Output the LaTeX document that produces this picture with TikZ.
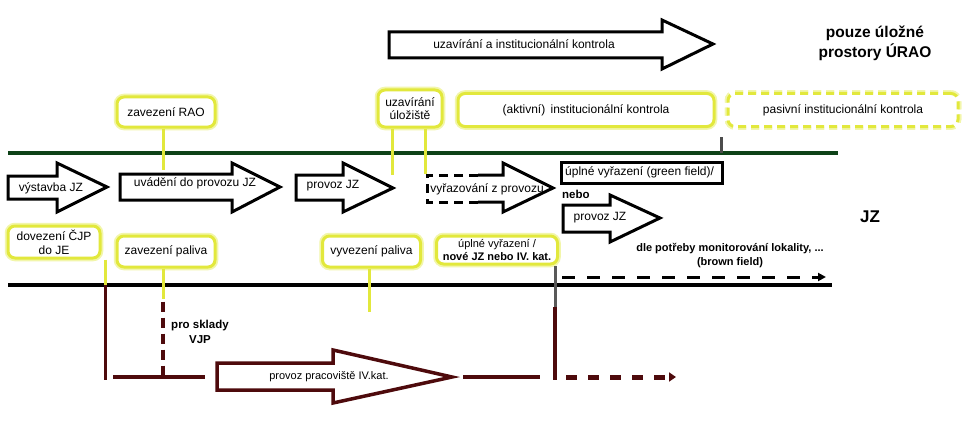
\documentclass[tikz,border=0pt]{standalone}
\usepackage{fontspec}
\setmainfont{Liberation Sans}
\usetikzlibrary{arrows.meta}
\definecolor{ylw}{RGB}{226,232,60}
\definecolor{ylwl}{RGB}{242,246,170}
\definecolor{dgreen}{RGB}{14,66,24}
\definecolor{mrn}{RGB}{78,10,12}
\tikzset{
  txt/.style={font=\fontsize{12}{14}\selectfont, inner sep=0pt},
  btxt/.style={font=\fontsize{11}{14}\selectfont\bfseries, inner sep=0pt, align=center},
  bigtxt/.style={font=\fontsize{15.5}{20}\selectfont\bfseries, inner sep=0pt, align=center},
  ybox/.style={draw=ylw, line width=3pt, rounded corners=7pt, fill=white,
    preaction={draw=ylwl, line width=6.5pt},
    align=center, inner sep=1pt, font=\fontsize{12}{14}\selectfont},
  ydash/.style={ybox, dash pattern=on 8pt off 5pt, preaction={draw=ylwl, line width=6.5pt, dash pattern=on 8pt off 5pt}},
  yl/.style={draw=ylw, line width=3pt},
  arr/.style={draw=black, line width=3pt, fill=white, line join=miter},
  marr/.style={draw=mrn, line width=3.5pt, fill=white, line join=miter},
  mline/.style={draw=mrn, line width=3.5pt},
  bbox/.style={draw=black, line width=3pt, fill=white}
}
\begin{document}
\begin{tikzpicture}[x=1pt,y=-1pt]
\useasboundingbox (0,0) rectangle (970,428);
\fill[white] (0,0) rectangle (970,428);

% main lines
\coordinate (gL) at (8,153); \coordinate (gR) at (838,153);
\coordinate (kL) at (8,285); \coordinate (kR) at (832,285);
\draw[dgreen, line width=4pt] (gL) -- (gR);
\draw[black, line width=4pt] (kL) -- (kR);

% top arrow
\draw[arr] (389,32) -- (662,32) -- (662,20) -- (713,44) -- (662,69) -- (662,58) -- (389,58) -- cycle;
\node[txt] (uzak) at (524,44) {uzavírání a institucionální kontrola};

\node[bigtxt] (pouze) at (875,43) {pouze úložné\\prostory ÚRAO};

% upper yellow boxes
\node[ybox, minimum width=98pt, minimum height=30pt] (rao) at (166,112) {zavezení RAO};
\node[ybox, minimum width=64pt, minimum height=37pt, font=\fontsize{12}{12.5}\selectfont] (uzu) at (410,108.5) {uzavírání\\úložiště};
\node[ybox, minimum width=256pt, minimum height=33pt] (akt) at (586,110) {(aktivní)\, institucionální kontrola};
\node[ydash, minimum width=230pt, minimum height=33pt] (pas) at (843,110) {pasivní institucionální kontrola};

\path (rao.south) ++(-3,0) coordinate (r1) ++(0,41) coordinate (r2);
\draw[yl] (r1) -- (r2);
\path (uzu.south) ++(-18,0) coordinate (u1) ++(0,46) coordinate (u1e);
\path (uzu.south) ++(15,0) coordinate (u2) ++(0,45) coordinate (u2e);
\draw[yl] (u1) -- (u1e);
\draw[yl] (u2) -- (u2e);
\path (akt.south east) ++(6,9) coordinate (aktT);
\draw[black!70, line width=2.5pt] (aktT) -- (aktT |- gL);

% middle row arrows
\draw[arr] (8,176) -- (57,176) -- (57,163) -- (107,187) -- (57,212) -- (57,199) -- (8,199) -- cycle;
\node[txt] (vys) at (51,188) {výstavba JZ};
\draw[arr] (120,174) -- (232,174) -- (232,163) -- (280,187) -- (232,212) -- (232,200) -- (120,200) -- cycle;
\node[txt] (uvd) at (195,183) {uvádění do provozu JZ};
\draw[arr] (296,175) -- (343,175) -- (343,163) -- (393,188) -- (343,212) -- (343,200) -- (296,200) -- cycle;
\node[txt] (prv) at (333,186) {provoz JZ};
\fill[white] (427,175) -- (503,175) -- (503,163) -- (553,188) -- (503,212) -- (503,202) -- (427,202) -- cycle;
\draw[arr, fill=none] (478,175) -- (503,175) -- (503,163) -- (553,188) -- (503,212) -- (503,202) -- (478,202);
\draw[black, line width=3pt, dash pattern=on 9pt off 6pt] (478,175) -- (427,175) -- (427,202) -- (478,202);
\node[txt] (vyr) at (487,189) {vyřazování z provozu};

\node[bbox, minimum width=161pt, minimum height=21pt, inner sep=0pt] (green) at (641.5,172.5) {};
\node[txt, anchor=west] (greent) at (565,172.5) {úplné vyřazení (green field)/};
\node[btxt, font=\fontsize{11.5}{14}\selectfont\bfseries, anchor=west] (nebo) at (562,194) {nebo};
\draw[arr] (563,205) -- (610,205) -- (610,195) -- (660,218) -- (610,242) -- (610,232) -- (563,232) -- cycle;
\node[txt] (prv2) at (600,218) {provoz JZ};
\node[bigtxt, font=\fontsize{17}{20}\selectfont\bfseries] (jz) at (870,217) {JZ};

% lower yellow boxes
\node[ybox, minimum width=92pt, minimum height=32pt] (dov) at (54,242) {dovezení ČJP\\do JE};
\node[ybox, minimum width=98pt, minimum height=31pt] (zpal) at (166,251.5) {zavezení paliva};
\node[ybox, minimum width=98pt, minimum height=31pt] (vpal) at (371.5,251.5) {vyvezení paliva};
\node[ybox, minimum width=121pt, minimum height=28pt, inner sep=0pt, font=\fontsize{11}{12.5}\selectfont] (upl) at (497,250) {úplné vyřazení /\\\textbf{nové JZ nebo IV. kat.}};

\node[btxt] (mon) at (730,256) {dle potřeby monitorování lokality, ...\\(brown field)};
\coordinate (bfS) at (562,277); \coordinate (bfE) at (826,277);
\draw[black, line width=3pt, dash pattern=on 13pt off 12pt, -{Triangle[length=8pt,width=8pt]}] (bfS) -- (bfE);

% lower connectors
\path (dov.south east) ++(4,0) coordinate (d1);
\coordinate (d2) at (d1 |- kL);
\path (d2) ++(0,95) coordinate (d3);
\draw[yl] (d1) -- (d2);
\draw[mline] (d2) -- (d3);
\path (zpal.south) ++(-3,0) coordinate (z1) ++(0,30) coordinate (z2);
\path (z2) ++(0,3) coordinate (z3) ++(0,75) coordinate (z4);
\draw[yl] (z1) -- (z2);
\draw[mrn, line width=4pt, dash pattern=on 10pt off 6pt] (z3) -- (z4);
\node[btxt, font=\fontsize{11.5}{15}\selectfont\bfseries] (skl) at (200,332) {pro sklady\\VJP};
\path (vpal.south) ++(-2,0) coordinate (v1) ++(0,43) coordinate (v2);
\draw[yl] (v1) -- (v2);
\path (upl.south east) ++(-4,0) coordinate (p1);
\coordinate (p2) at (p1 |- 0,307);
\path (p2) ++(0,73) coordinate (p3);
\draw[black!65, line width=3pt] (p1) -- (p2);
\draw[mline] (p2) -- (p3);

% bottom maroon row
\coordinate (m1) at (113,377); \coordinate (m2) at (205,377);
\draw[mline] (m1) -- (m2);
\draw[marr] (217,363) -- (333,363) -- (333,350) -- (452,377) -- (333,403) -- (333,390) -- (217,390) -- cycle;
\node[txt, font=\fontsize{11}{12}\selectfont] (ppr) at (329,377) {provoz pracoviště IV.kat.};
\coordinate (m3) at (463,377); \coordinate (m4) at (540,377);
\draw[mline] (m3) -- (m4);
\coordinate (m5) at (566,377); \coordinate (m6) at (676,377);
\draw[mrn, line width=5pt, dash pattern=on 11pt off 11pt, -{Triangle[length=7pt,width=9pt]}] (m5) -- (m6);
\end{tikzpicture}
\end{document}
